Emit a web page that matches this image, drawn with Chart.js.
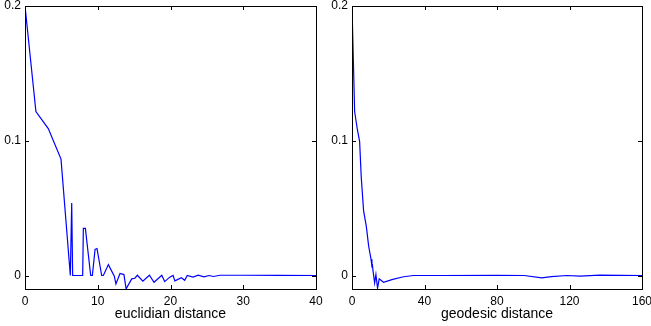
<!DOCTYPE html>
<html>
<head>
<meta charset="utf-8">
<script src="https://cdn.jsdelivr.net/npm/chart.js@4/dist/chart.umd.min.js"></script>
<style>
  html, body { margin: 0; padding: 0; background: #fff; }
  #wrap { position: relative; width: 651px; height: 326px; }
  .pane { position: absolute; top: 0; height: 326px; }
</style>
</head>
<body>
<div id="wrap">
  <div class="pane" style="left:0;width:325px"><canvas id="euclid"></canvas></div>
  <div class="pane" style="left:325px;width:326px"><canvas id="geo"></canvas></div>
</div>
<script>
// data
const yTicks = [0, 0.1, 0.2];
const euclidTicks = [0, 10, 20, 30, 40];
const geoTicks = [0, 40, 80, 120, 160];

const euclidX = [0, 1.5, 3.2, 4.95, 6.23, 6.42, 6.55, 7.93, 8.02, 8.3, 9.03, 9.26, 9.63, 9.9,
  10.54, 10.77, 11.46, 12.28, 12.5, 13.06, 13.6, 13.9, 14.67, 15.1, 15.45, 16.2, 17.1, 17.74,
  18.8, 19.2, 19.9, 20.35, 20.6, 21.5, 21.95, 22.3, 23.1, 23.8, 24.6, 25.3, 25.9, 26.8, 30, 35, 40];
const euclidY = [0.2, 0.1217, 0.109, 0.0864, 0, 0.0539, 0, 0, 0.035, 0.035, 0, 0, 0.0193, 0.02,
  0, 0, 0.0081, -0.0005, -0.0062, 0.0015, 0.0007, -0.0099, -0.0025, -0.002, 0.0002, -0.0042, 0.0002, -0.005,
  0.0002, -0.0045, -0.0012, 0.0001, -0.004, -0.0017, -0.0035, 0, -0.0012, 0.0002, -0.001, 0, -0.0007, 0.0002, 0.0002, 0.0001, 0];

const geoX = [0, 1.45, 3, 4.2, 5.1, 6.4, 7.9, 9.2, 9.7, 10.5, 11.0, 11.3, 11.6, 12.5, 13.2, 14.1,
  15.0, 17.4, 22, 28.4, 34, 50, 80, 95, 104.7, 110, 118.5, 125.8, 136.8, 160];
const geoY = [0.2, 0.1217, 0.108, 0.0995, 0.073, 0.048, 0.0365, 0.0217, 0.018, 0.012, 0.0069, 0.0075,
  0.0035, -0.0055, 0.0008, -0.0095, -0.0025, -0.005, -0.003, -0.0009, 0, 0, 0.0001, 0, -0.0017,
  -0.0008, 0, -0.0004, 0.0003, 0];

const FONT = "'Liberation Sans', Arial, sans-serif";

// box round the plot and inward tick marks on all four sides
const boxTicks = {
  id: "boxTicks",
  afterDraw(chart) {
    const { ctx, chartArea: a, scales } = chart;
    ctx.save();
    ctx.strokeStyle = "#000";
    ctx.lineWidth = 1;
    ctx.beginPath();
    scales.x.ticks.forEach((t) => {
      const px = Math.round(scales.x.getPixelForValue(t.value)) + 0.5;
      ctx.moveTo(px, a.bottom); ctx.lineTo(px, a.bottom - 4);
      ctx.moveTo(px, a.top); ctx.lineTo(px, a.top + 4);
    });
    scales.y.ticks.forEach((t) => {
      const py = Math.round(scales.y.getPixelForValue(t.value)) + 0.5;
      ctx.moveTo(a.left, py); ctx.lineTo(a.left + 4, py);
      ctx.moveTo(a.right, py); ctx.lineTo(a.right - 4, py);
    });
    ctx.stroke();
    ctx.strokeRect(Math.round(a.left) + 0.5, Math.round(a.top) + 0.5,
      Math.round(a.right - a.left), Math.round(a.bottom - a.top));
    ctx.restore();
  },
};

function makeChart(id, xs, ys, xTicks, title, yWidth) {
  const points = xs.map((x, i) => ({ x: x, y: ys[i] }));
  return new Chart(document.getElementById(id), {
    type: "line",
    data: {
      datasets: [{
        data: points,
        borderColor: "#0000ff",
        borderWidth: 1.2,
        pointRadius: 0,
        tension: 0,
        fill: false,
      }],
    },
    options: {
      responsive: true,
      maintainAspectRatio: false,
      animation: false,
      layout: { padding: { top: 6, right: 9, left: 0, bottom: 0 } },
      plugins: { legend: { display: false }, tooltip: { enabled: false } },
      scales: {
        x: {
          type: "linear",
          min: xTicks[0],
          max: xTicks[xTicks.length - 1],
          afterBuildTicks: (s) => { s.ticks = xTicks.map((v) => ({ value: v })); },
          afterFit: (s) => {
            s.height = 37;
            s.paddingLeft = 0; s.paddingRight = 0;
          },
          grid: { display: false, drawTicks: false },
          border: { display: false },
          ticks: { color: "#000", padding: 5, maxRotation: 0, font: { family: FONT, size: 12 } },
          title: {
            display: true, text: title, color: "#000",
            font: { family: FONT, size: 14 }, padding: { top: 0, bottom: 3 },
          },
        },
        y: {
          min: -0.01,
          max: 0.2,
          afterBuildTicks: (s) => { s.ticks = yTicks.map((v) => ({ value: v })); },
          afterFit: (s) => {
            s.width = yWidth;
            s.paddingTop = 0; s.paddingBottom = 0;
          },
          grid: { display: false, drawTicks: false },
          border: { display: false },
          ticks: {
            color: "#000", padding: 4, font: { family: FONT, size: 12 },
            callback: (v) => String(v),
          },
        },
      },
    },
    plugins: [boxTicks],
  });
}

makeChart("euclid", euclidX, euclidY, euclidTicks, "euclidian distance", 25);
makeChart("geo", geoX, geoY, geoTicks, "geodesic distance", 27);
</script>
</body>
</html>
